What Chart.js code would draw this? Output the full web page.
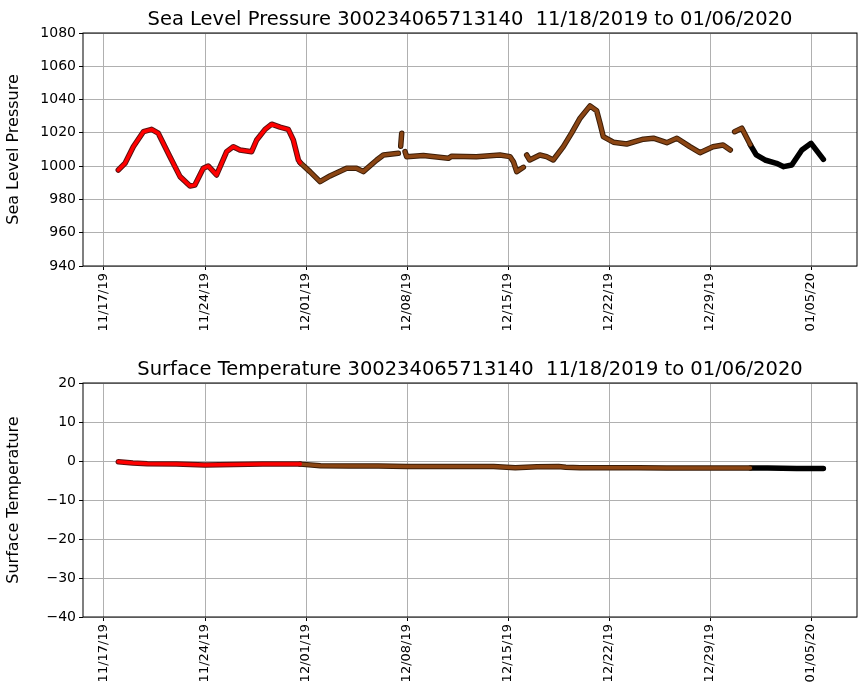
<!DOCTYPE html>
<html><head><meta charset="utf-8">
<script src="https://cdn.jsdelivr.net/npm/chart.js@4"></script>
<style>body{margin:0;background:#fff}canvas{position:absolute;left:0}</style>
</head><body>
<canvas id="c1" style="top:0" width="867" height="350"></canvas>
<canvas id="c2" style="top:350px" width="867" height="350"></canvas>
<script>
const tickDays=[0,7,14,21,28,35,42,49];
const tickLabels=["11/17/19","11/24/19","12/01/19","12/08/19","12/15/19","12/22/19","12/29/19","01/05/20"];
const pDays=[0.99,1.46,2.03,2.73,3.3,3.76,4.57,5.27,5.96,6.3,6.88,7.22,7.8,8.5,8.96,9.42,10.23,10.58,11.16,11.62,12.2,12.77,13.12,13.47,13.6,14.27,14.97,15.66,16.81,17.5,17.97,18.9,19.36,20.4,20.5,20.56,20.63,20.7,20.86,20.97,22.13,23.86,24.1,25.8,27.44,28.14,28.37,28.6,29.06,29.2,29.29,29.5,30.2,30.67,31.13,31.83,32.4,32.99,33.68,34.14,34.37,34.6,35.3,36.22,37.38,38.07,39.0,39.7,40.6,41.3,42.2,42.9,43.4,43.55,43.7,44.2,44.8,45.2,45.8,46.6,47.1,47.66,48.36,49.0,49.85];
const pressure=[997.7,1001.7,1011.7,1020.7,1022.1,1019.8,1005.7,993.7,988.1,988.7,998.7,1000.1,994.7,1008.7,1011.7,1009.7,1008.7,1015.7,1022.1,1025.2,1023.4,1022.1,1015.7,1003.7,1002,996.7,990.7,994.1,998.7,998.7,996.7,1003.7,1006.7,1007.7,null,1012,1019.8,null,1008.7,1005.7,1006.4,1004.7,1006,1005.7,1006.7,1005.7,1002.7,996.7,999.3,null,1006.7,1003.7,1006.7,1005.7,1003.7,1011.7,1019.8,1028.8,1036.2,1033.3,1025.8,1017.7,1014.4,1013.3,1016.2,1016.8,1014.1,1016.8,1011.7,1008.1,1011.7,1012.7,1009.7,null,1020.7,1022.8,1012.7,1006.7,1003.7,1001.7,999.7,1000.7,1009.7,1013.7,1004.1];
const tDays=[0.99,2,3,5,7,9,11,13,13.6,15,17,19,21,23,25,27,28.5,30,31.5,32,33,35,37,39,41,43,44.8,46,48,49.85];
const temperature=[-0.2,-0.5,-0.7,-0.8,-1.0,-0.9,-0.8,-0.8,-0.8,-1.2,-1.3,-1.3,-1.4,-1.4,-1.4,-1.4,-1.7,-1.5,-1.4,-1.6,-1.7,-1.7,-1.7,-1.8,-1.8,-1.8,-1.8,-1.8,-1.9,-1.9];
const redEnd=13.6, brownEnd=44.8;

function split(days,vals){
  const mk=(a,b)=>days.map((d,i)=>({x:d,y:vals[i]})).filter(p=>p.x>=a&&p.x<=b);
  return [[mk(-1,redEnd),'#ff0000','#5a1010'],[mk(redEnd,brownEnd),'#8b4513','#3a1d08'],[mk(brownEnd,99),'#000000','#000000']];
}
function datasets(days,vals){
  const out=[];
  split(days,vals).forEach(([d,c,e])=>{
    out.push({data:d,borderColor:e,borderWidth:5.5,pointRadius:0,spanGaps:false,borderCapStyle:'round',borderJoinStyle:'round',order:2});
    out.push({data:d,borderColor:c,borderWidth:3.5,pointRadius:0,spanGaps:false,borderCapStyle:'round',borderJoinStyle:'round',order:1});
  });
  return out;
}
const frame={id:'frame',afterDraw(ch,a,o){const c=ch.ctx,r=ch.chartArea;c.save();c.strokeStyle='#000';c.lineWidth=1;c.strokeRect(r.left,r.top,r.right-r.left,r.bottom-r.top);
  c.fillStyle='#000';c.font='19.5px "DejaVu Sans"';c.textAlign='center';c.textBaseline='alphabetic';c.fillText(o.text,(r.left+r.right)/2,r.top-8);c.restore();}};
function make(id,days,vals,ymin,ymax,step,title,ytitle,xh){
  new Chart(document.getElementById(id),{type:'line',data:{datasets:datasets(days,vals)},
  options:{responsive:false,animation:false,layout:{padding:{top:33,right:10,left:0,bottom:0}},
   plugins:{legend:{display:false},tooltip:{enabled:false},frame:{text:title}},
   scales:{
    x:{type:'linear',min:-1.455,max:52.18,
      afterBuildTicks:s=>{s.ticks=tickDays.map(v=>({value:v}));},
      afterFit:s=>{s.height=xh;},
      ticks:{autoSkip:false,minRotation:90,maxRotation:90,color:'#000',font:{family:'DejaVu Sans',size:13},callback:v=>tickLabels[tickDays.indexOf(v)]},
      grid:{color:'#b0b0b0',tickColor:'#000',tickLength:4},border:{display:false}},
    y:{min:ymin,max:ymax,afterFit:s=>{s.width=83;},
      ticks:{stepSize:step,color:'#000',font:{family:'DejaVu Sans',size:14},callback:v=>v<0?'\u2212'+(-v):v},
      title:{display:true,text:ytitle,color:'#000',font:{family:'DejaVu Sans',size:16},padding:{top:4,bottom:2}},
      grid:{color:'#b0b0b0',tickColor:'#000',tickLength:4},border:{display:false}}
   }},plugins:[frame]});
}
make('c1',pDays,pressure,940,1080,20,'Sea Level Pressure 300234065713140  11/18/2019 to 01/06/2020','Sea Level Pressure',84);
make('c2',tDays,temperature,-40,20,10,'Surface Temperature 300234065713140  11/18/2019 to 01/06/2020','Surface Temperature',83);
</script></body></html>
